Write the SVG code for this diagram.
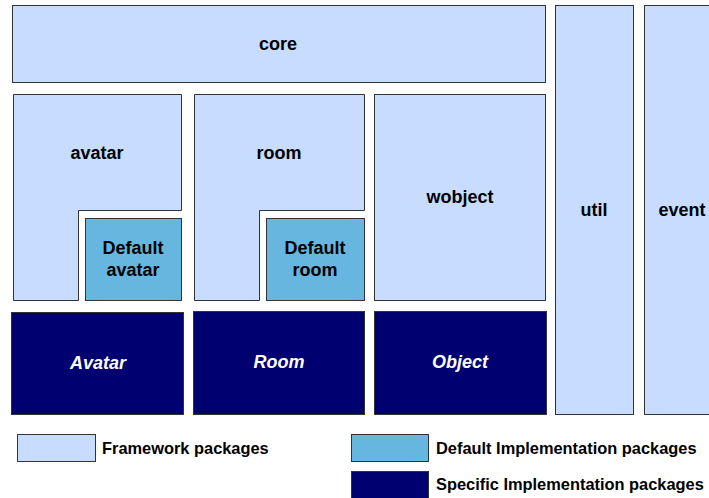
<svg xmlns="http://www.w3.org/2000/svg" width="709" height="498" viewBox="0 0 709 498">
<style>
.fw{fill:#c8dcff;stroke:#333;stroke-width:1}
.di{fill:#66b6e0;stroke:#333;stroke-width:1}
.si{fill:#000070;stroke:#333;stroke-width:1}
.t{font-family:"Liberation Sans",Arial,sans-serif;font-weight:bold;font-size:18px;text-anchor:middle;fill:#000}
.ti{font-family:"Liberation Sans",Arial,sans-serif;font-weight:bold;font-style:italic;font-size:18px;text-anchor:middle;fill:#fff}
.l{font-family:"Liberation Sans",Arial,sans-serif;font-weight:bold;font-size:16.4px;fill:#000}
</style>
<rect width="709" height="498" fill="#fff"/>
<g id="core"><rect class="fw" x="12.5" y="5.5" width="533" height="77"/><text class="t" x="278" y="50">core</text></g>
<g id="avatar"><path class="fw" d="M13.5 94.5H181.5V210.5H78.5V300.5H13.5Z"/><text class="t" x="97" y="159">avatar</text></g>
<g id="default-avatar"><rect class="di" x="85.5" y="218.5" width="96" height="82"/><text class="t" x="133" y="254">Default</text><text class="t" x="133" y="276">avatar</text></g>
<g id="room"><path class="fw" d="M194.5 94.5H364.5V210.5H259.5V300.5H194.5Z"/><text class="t" x="279" y="159">room</text></g>
<g id="default-room"><rect class="di" x="266.5" y="218.5" width="98" height="82"/><text class="t" x="315" y="254">Default</text><text class="t" x="315" y="276">room</text></g>
<g id="wobject"><rect class="fw" x="374.5" y="94.5" width="171" height="206"/><text class="t" x="460" y="203">wobject</text></g>
<g id="util"><rect class="fw" x="555.5" y="5.5" width="78" height="409"/><text class="t" x="594" y="216">util</text></g>
<g id="event"><rect class="fw" x="644.5" y="5.5" width="78" height="409"/><text class="t" x="682" y="216">event</text></g>
<g id="avatar-impl"><rect class="si" x="11.5" y="312.5" width="172" height="102"/><text class="ti" x="98" y="369">Avatar</text></g>
<g id="room-impl"><rect class="si" x="193.5" y="311.5" width="171" height="103"/><text class="ti" x="279" y="368">Room</text></g>
<g id="object-impl"><rect class="si" x="374.5" y="311.5" width="172" height="103"/><text class="ti" x="460" y="368">Object</text></g>
<g id="legend">
<rect class="fw" x="17.5" y="434.5" width="78" height="27"/><text class="l" x="102" y="454">Framework packages</text>
<rect class="di" x="351.5" y="434.5" width="77" height="27"/><text class="l" x="436" y="454">Default Implementation packages</text>
<rect class="si" x="351.5" y="471.5" width="77" height="27"/><text class="l" x="436" y="490">Specific Implementation packages</text>
</g>
<g id="connectors"/>
</svg>
